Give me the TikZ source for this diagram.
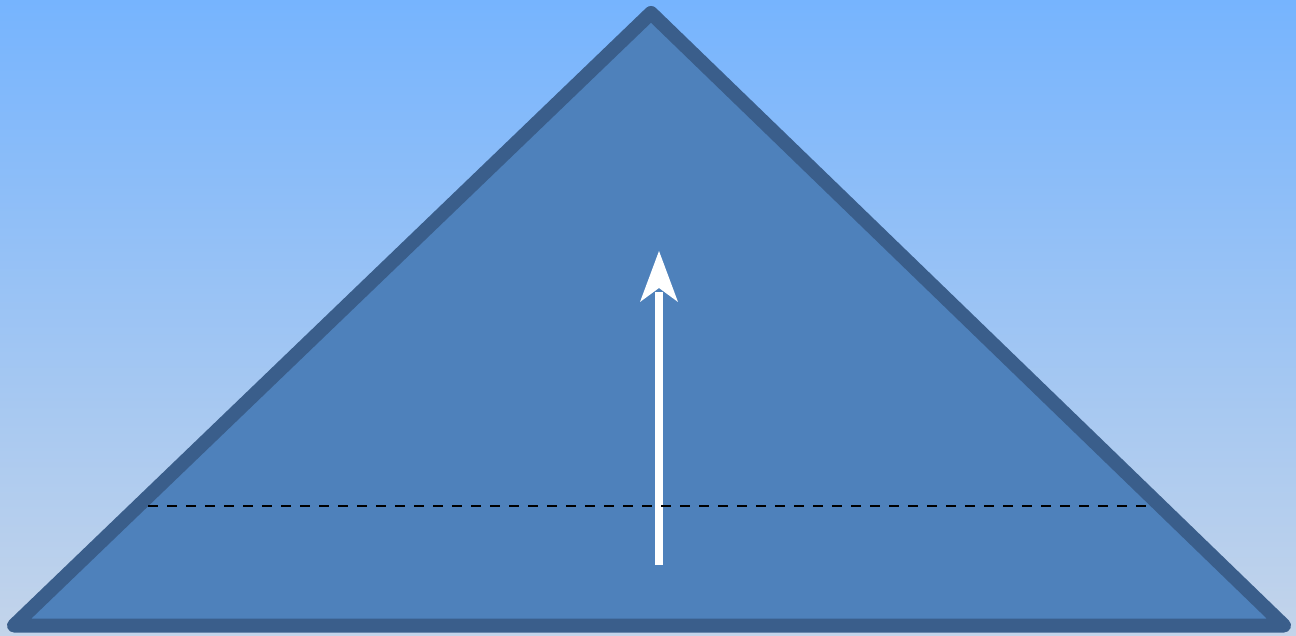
\documentclass[tikz,border=0pt]{standalone}
\begin{document}
\begin{tikzpicture}[x=1pt,y=-1pt,
  tri/.style={fill=triFill,draw=triEdge,line width=14pt,line join=round},
  dashline/.style={draw=black,line width=2.5pt,dash pattern=on 10pt off 9pt},
  shaft/.style={draw=white,line width=8pt},
  head/.style={fill=white}]
\definecolor{triFill}{HTML}{4E81BB}
\definecolor{triEdge}{HTML}{3A5E8B}
\definecolor{bgTop}{HTML}{76B4FE}
\definecolor{bgMid}{HTML}{95C3F9}
\definecolor{bgBot}{HTML}{C3D4EA}
\useasboundingbox (0,0) rectangle (1296,636);
\shade[top color=bgTop,middle color=bgMid,bottom color=bgBot] (0,0) rectangle (1296,636);
\coordinate (A) at (651,13);
\coordinate (L) at (14,625.5);
\coordinate (R) at (1284,625.5);
\draw[tri] (A) -- (L) -- (R) -- cycle;
\coordinate (S0) at (659,565);
\coordinate (S1) at (659,292);
\draw[shaft] (S0) -- (S1);
\fill[head] (659,251) -- (678,302) -- (659,288) -- (640,302) -- cycle;
\coordinate (D0) at (148,506);
\coordinate (D1) at (1152,506);
\draw[dashline] (D0) -- (D1);
\end{tikzpicture}
\end{document}
